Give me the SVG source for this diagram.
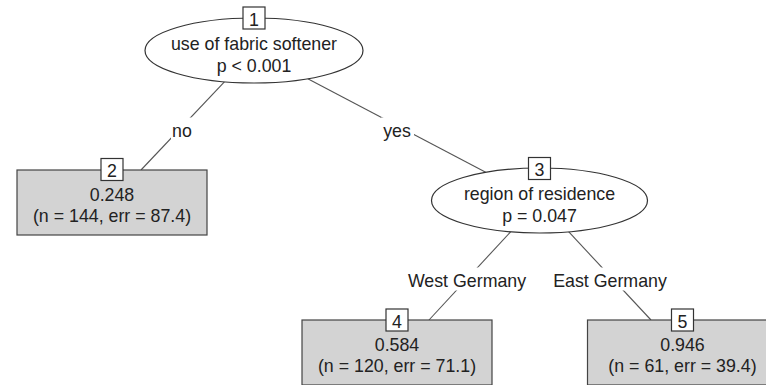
<svg xmlns="http://www.w3.org/2000/svg" width="766" height="385" viewBox="0 0 766 385">
  <style>
    text { font-family: "Liberation Sans", Arial, sans-serif; font-size: 17.8px; fill: #222; text-anchor: middle; }
    .edge { stroke: #555; stroke-width: 1.1; fill: none; }
    .lblbg { fill: #fff; stroke: none; }
    .inner { fill: #fff; stroke: #333; stroke-width: 1.2; }
    .term { fill: #d3d3d3; stroke: #444; stroke-width: 1.2; }
    .idbox { fill: #fff; stroke: #333; stroke-width: 1.2; }
  </style>

  <!-- connectors with their split labels -->
  <g id="edges">
    <line class="edge" x1="224.4" y1="81.8" x2="141" y2="170"/>
    <line class="edge" x1="307.8" y1="78.8" x2="485.7" y2="172.2"/>
    <line class="edge" x1="510.6" y1="231.8" x2="429" y2="320"/>
    <line class="edge" x1="568.6" y1="231.7" x2="651" y2="320"/>

    <rect class="lblbg" x="171" y="117.5" width="23" height="23"/>
    <text x="182" y="137">no</text>

    <rect class="lblbg" x="381" y="117.5" width="33" height="23"/>
    <text x="397" y="137">yes</text>

    <rect class="lblbg" x="406" y="267.5" width="123" height="23"/>
    <text x="467" y="287">West Germany</text>

    <rect class="lblbg" x="551" y="267.5" width="119" height="23"/>
    <text x="610" y="287">East Germany</text>
  </g>

  <!-- node 1: inner split -->
  <g id="node1">
    <ellipse class="inner" cx="254" cy="50.5" rx="109" ry="32.5"/>
    <text x="254" y="50">use of fabric softener</text>
    <text x="254" y="72">p &lt; 0.001</text>
    <rect class="idbox" x="243" y="7" width="22" height="22"/>
    <text x="254" y="25.5">1</text>
  </g>

  <!-- node 2: terminal -->
  <g id="node2">
    <rect class="term" x="17" y="170" width="190" height="65"/>
    <text x="112" y="200.5">0.248</text>
    <text x="112" y="222">(n = 144, err = 87.4)</text>
    <rect class="idbox" x="101" y="158.5" width="22" height="22"/>
    <text x="112" y="177">2</text>
  </g>

  <!-- node 3: inner split -->
  <g id="node3">
    <ellipse class="inner" cx="539.5" cy="200.5" rx="108" ry="32.5"/>
    <text x="539.5" y="200">region of residence</text>
    <text x="539.5" y="222">p = 0.047</text>
    <rect class="idbox" x="528.5" y="157.5" width="22" height="22"/>
    <text x="539.5" y="176">3</text>
  </g>

  <!-- node 4: terminal -->
  <g id="node4">
    <rect class="term" x="302" y="320" width="190" height="65"/>
    <text x="397" y="350.5">0.584</text>
    <text x="397" y="372">(n = 120, err = 71.1)</text>
    <rect class="idbox" x="386" y="309" width="22" height="22"/>
    <text x="397" y="327.5">4</text>
  </g>

  <!-- node 5: terminal -->
  <g id="node5">
    <rect class="term" x="587.5" y="320" width="190" height="65"/>
    <text x="682.5" y="350.5">0.946</text>
    <text x="682.5" y="372">(n = 61, err = 39.4)</text>
    <rect class="idbox" x="671.5" y="309" width="22" height="22"/>
    <text x="682.5" y="327.5">5</text>
  </g>
</svg>
